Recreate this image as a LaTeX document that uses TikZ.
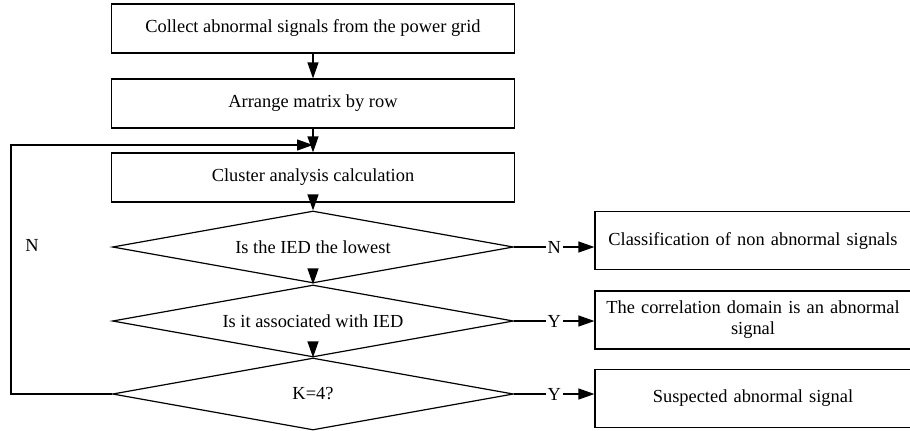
\documentclass[tikz,border=0pt]{standalone}
\usepackage{fontspec}
\setmainfont{Liberation Serif}
\usetikzlibrary{arrows.meta,shapes.geometric}

\begin{document}
\begin{tikzpicture}[x=0.5pt, y=-0.5pt,
		every node/.style={font=\fontsize{9.2}{10.5}\selectfont},
		stepbox/.style={draw, line width=0.6pt, minimum width=201.5pt, minimum height=24.5pt, inner sep=0pt},
		outbox/.style={draw, line width=0.6pt, minimum width=158pt, minimum height=29pt, inner sep=0pt, text width=154pt, align=center},
		testbox/.style={draw, diamond, aspect=5.5, line width=0.6pt, minimum width=200.5pt, minimum height=36pt, inner sep=0pt},
		flow/.style={line width=0.6pt, -{Triangle[length=8pt, width=5.5pt]}},
		tag/.style={fill=white, inner sep=1pt}]
		%%%%% START %%%%%
		
		\useasboundingbox (0, 0) rectangle (910, 430);
		
		\node[stepbox] (box1) at (313, 28.5) {Collect abnormal signals from the power grid};
		\node[stepbox] (box2) at (313, 103.5) {Arrange matrix by row};
		\node[stepbox] (box3) at (313, 177.5) {Cluster analysis calculation};
		
		\node[testbox] (dia1) at (313, 247) {Is the IED the lowest};
		\node[testbox] (dia2) at (313, 321) {Is it associated with IED};
		\node[testbox] (dia3) at (313, 394) {K=4?};
		
		\node[outbox] (res1) at (753, 240.5) {Classification of non abnormal signals};
		\node[outbox] (res2) at (753, 320) {The correlation domain is an abnormal\\signal};
		\node[outbox] (res3) at (753, 398.5) {Suspected abnormal signal};
		
		\node (lblN) at (32, 245) {N};
		\coordinate (turn) at (11, 145);
		\coordinate (merge) at (313, 145);
		
		\draw[flow] (box1) -- (box2);
		\draw[flow] (box2) -- (box3);
		\draw[flow] (box3) -- (dia1);
		\draw[flow] (dia1.south) ++(0, -8) -- (dia2.north);
		\draw[flow] (dia2.south) ++(0, -8) -- (dia3.north);
		
		\draw[flow] (dia1.east) -- node[tag] {N} (dia1.east -| res1.west);
		\draw[flow] (dia2.east) -- node[tag] {Y} (dia2.east -| res2.west);
		\draw[flow] (dia3.east) -- node[tag] {Y} (dia3.east -| res3.west);
		
		\draw[flow] (dia3.west) -| (turn) -- (merge);
		
		%%%%% END %%%%%
	\end{tikzpicture}
\end{document}
